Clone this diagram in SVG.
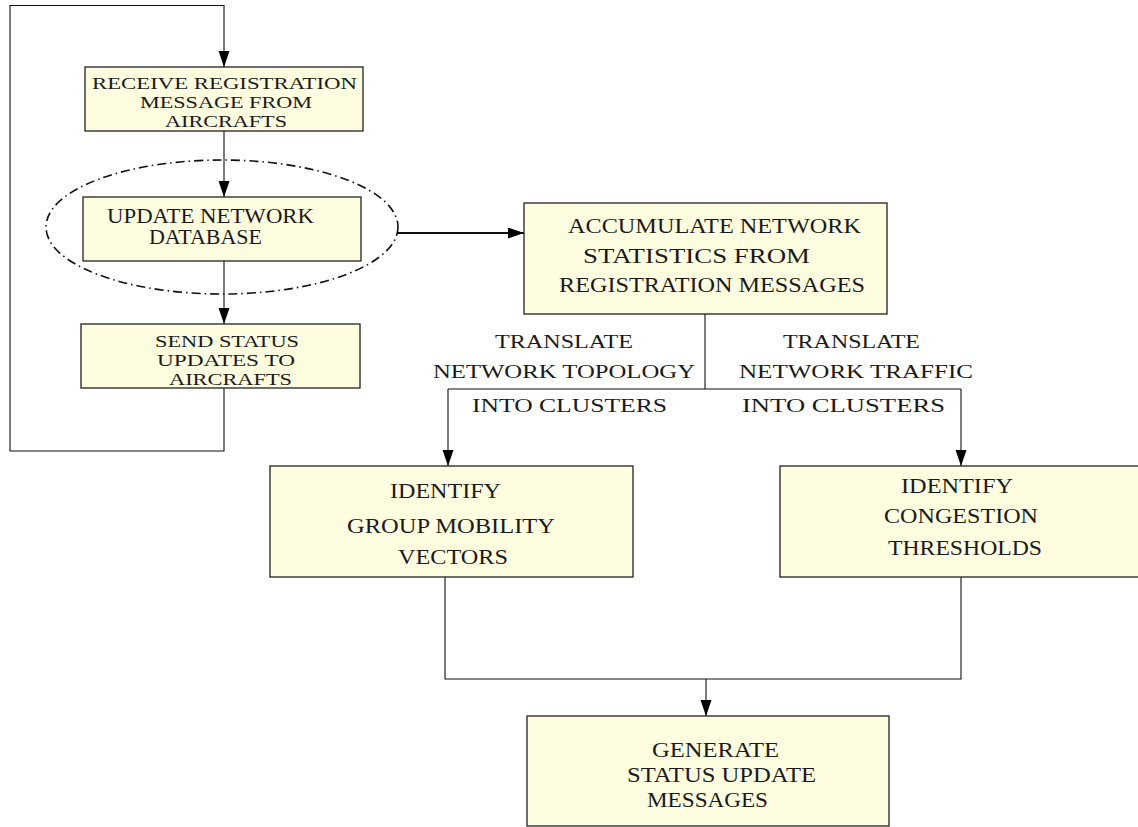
<svg xmlns="http://www.w3.org/2000/svg" width="1138" height="827" viewBox="0 0 1138 827">
  <style>
    .box { fill: #fffddf; stroke: #222; stroke-width: 1.3; }
    .lbl { font-family: "Liberation Serif", "Times New Roman", serif; fill: #1a1a1a; }
    .s17 { font-size: 17px; }
    .s20 { font-size: 20px; }
    .s19 { font-size: 19px; }
    .s22 { font-size: 22px; }
    .wire { fill: none; stroke: #111; stroke-width: 1.1; }
    .wire.arrow { marker-end: url(#head); }
    .wire.thick { stroke-width: 1.8; }
    .halo { fill: none; stroke: #111; stroke-width: 1.6; stroke-dasharray: 9 4 1.5 4; }
  </style>
  <defs>
    <marker id="head" markerUnits="userSpaceOnUse" markerWidth="17" markerHeight="12" refX="16" refY="5.5" orient="auto">
      <path d="M0,0 L16,5.5 L0,11 z" fill="#000"/>
    </marker>
  </defs>
  <rect width="1138" height="827" fill="#fff"/>

  <g id="connectors">
    <!-- feedback loop from the status step back to the receive step -->
    <path class="wire arrow" d="M224,388 V451 H10 V5.5 H224 V67"/>
    <path class="wire arrow" d="M224,131 V197"/>
    <path class="wire arrow" d="M224,261 V324"/>
    <!-- database scope to statistics -->
    <path class="wire thick arrow" d="M398,233 H524"/>
    <!-- split into the two cluster branches -->
    <path class="wire" d="M705,314 V389 M448,389 H961"/>
    <path class="wire arrow" d="M448,389 V466"/>
    <path class="wire arrow" d="M961,389 V466"/>
    <!-- merge into the final step -->
    <path class="wire" d="M445,577 V679 H961 V577"/>
    <path class="wire arrow" d="M706,679 V716"/>
  </g>

  <g id="db-scope">
    <ellipse class="halo" cx="222" cy="227" rx="176" ry="67"/>
  </g>

  <g id="receive">
    <rect class="box" x="85" y="67" width="278" height="64"/>
    <text class="lbl s17" x="92" y="89" textLength="265" lengthAdjust="spacingAndGlyphs">RECEIVE REGISTRATION</text>
    <text class="lbl s17" x="140" y="108" textLength="172" lengthAdjust="spacingAndGlyphs">MESSAGE FROM</text>
    <text class="lbl s17" x="165" y="127" textLength="122" lengthAdjust="spacingAndGlyphs">AIRCRAFTS</text>
  </g>

  <g id="update">
    <rect class="box" x="83" y="197" width="278" height="64"/>
    <text class="lbl s20" x="107" y="223" textLength="207" lengthAdjust="spacingAndGlyphs">UPDATE NETWORK</text>
    <text class="lbl s20" x="149" y="244" textLength="113" lengthAdjust="spacingAndGlyphs">DATABASE</text>
  </g>

  <g id="send">
    <rect class="box" x="81" y="324" width="279" height="64"/>
    <text class="lbl s17" x="155" y="347" textLength="144" lengthAdjust="spacingAndGlyphs">SEND STATUS</text>
    <text class="lbl s17" x="157" y="366" textLength="138" lengthAdjust="spacingAndGlyphs">UPDATES TO</text>
    <text class="lbl s17" x="169" y="385" textLength="123" lengthAdjust="spacingAndGlyphs">AIRCRAFTS</text>
  </g>

  <g id="accumulate">
    <rect class="box" x="524" y="203" width="363" height="111"/>
    <text class="lbl s20" x="568" y="233" textLength="293" lengthAdjust="spacingAndGlyphs">ACCUMULATE NETWORK</text>
    <text class="lbl s20" x="583" y="263" textLength="227" lengthAdjust="spacingAndGlyphs">STATISTICS FROM</text>
    <text class="lbl s20" x="559" y="292" textLength="306" lengthAdjust="spacingAndGlyphs">REGISTRATION MESSAGES</text>
  </g>

  <g id="topology-label">
    <text class="lbl s19" x="495" y="348" textLength="138" lengthAdjust="spacingAndGlyphs">TRANSLATE</text>
    <text class="lbl s19" x="433" y="378" textLength="262" lengthAdjust="spacingAndGlyphs">NETWORK TOPOLOGY</text>
    <text class="lbl s19" x="472" y="412" textLength="195" lengthAdjust="spacingAndGlyphs">INTO CLUSTERS</text>
  </g>

  <g id="traffic-label">
    <text class="lbl s19" x="783" y="348" textLength="137" lengthAdjust="spacingAndGlyphs">TRANSLATE</text>
    <text class="lbl s19" x="739" y="378" textLength="234" lengthAdjust="spacingAndGlyphs">NETWORK TRAFFIC</text>
    <text class="lbl s19" x="742" y="412" textLength="203" lengthAdjust="spacingAndGlyphs">INTO CLUSTERS</text>
  </g>

  <g id="mobility">
    <rect class="box" x="270" y="466" width="363" height="111"/>
    <text class="lbl s22" x="390" y="498" textLength="111" lengthAdjust="spacingAndGlyphs">IDENTIFY</text>
    <text class="lbl s22" x="347" y="533" textLength="208" lengthAdjust="spacingAndGlyphs">GROUP MOBILITY</text>
    <text class="lbl s22" x="398" y="564" textLength="110" lengthAdjust="spacingAndGlyphs">VECTORS</text>
  </g>

  <g id="congestion">
    <rect class="box" x="780" y="466" width="370" height="111"/>
    <text class="lbl s22" x="901" y="493" textLength="112" lengthAdjust="spacingAndGlyphs">IDENTIFY</text>
    <text class="lbl s22" x="884" y="523" textLength="154" lengthAdjust="spacingAndGlyphs">CONGESTION</text>
    <text class="lbl s22" x="888" y="555" textLength="154" lengthAdjust="spacingAndGlyphs">THRESHOLDS</text>
  </g>

  <g id="generate">
    <rect class="box" x="527" y="716" width="362" height="110"/>
    <text class="lbl s22" x="652" y="757" textLength="127" lengthAdjust="spacingAndGlyphs">GENERATE</text>
    <text class="lbl s22" x="627" y="782" textLength="189" lengthAdjust="spacingAndGlyphs">STATUS UPDATE</text>
    <text class="lbl s22" x="647" y="807" textLength="121" lengthAdjust="spacingAndGlyphs">MESSAGES</text>
  </g>
</svg>
